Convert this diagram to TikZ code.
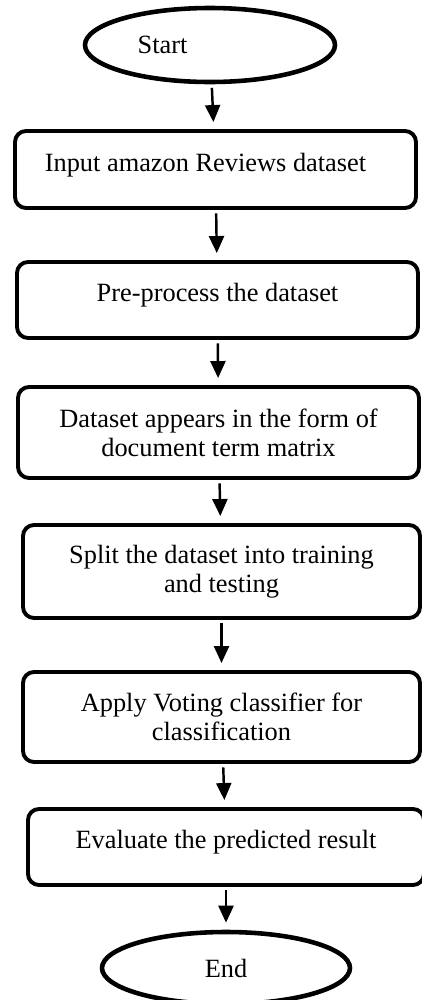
\documentclass[tikz,border=0pt]{standalone}
\usepackage{fontspec}
\setmainfont{Liberation Serif}
\usetikzlibrary{arrows.meta,positioning,shapes.geometric}
\tikzset{
    flowstart/.style={ellipse,draw,line width=2.6pt,inner sep=0pt,minimum width=5cm,minimum height=1.48cm},
    flowprocess/.style={rectangle,draw,rounded corners=0.22cm,line width=2.2pt,align=center,minimum width=8.02cm,minimum height=1.52cm},
    flowsingle/.style={flowprocess,text depth=0.3cm},
    flowline/.style={-{Triangle[width=0.3cm,length=0.34cm]},line width=1.4pt,shorten <=2pt,shorten >=4pt}
}

\begin{document}
\begin{tikzpicture}[font=\fontsize{15pt}{16.5pt}\selectfont]
            \useasboundingbox (0,0) rectangle (8.44,-20);
            \node[flowstart] (start) at (4.20,-0.90) {Start\hspace*{1.9cm}};
            \node[flowsingle,minimum height=1.54cm] (input) at (4.31,-3.39) {Input amazon Reviews dataset\hspace*{0.4cm}};
            \node[flowsingle] (preprocess) at (4.35,-6.00) {Pre-process the dataset};
            \node[flowprocess,minimum height=1.82cm] (dtm) at (4.37,-8.65) {Dataset appears in the form of\\document term matrix};
            \node[flowprocess,minimum width=7.94cm,minimum height=1.86cm] (split) at (4.43,-11.43) {Split the dataset into training\\and testing};
            \node[flowprocess,minimum width=7.94cm,minimum height=1.80cm] (vote) at (4.43,-14.34) {Apply Voting classifier for\\classification};
            \node[flowsingle,minimum width=7.92cm] (evaluate) at (4.52,-16.94) {Evaluate the predicted result};
            \node[flowstart,minimum width=4.96cm,minimum height=1.44cm] (stop) at (4.52,-19.36) {End};
            \draw[flowline] (start) -- (input);
            \draw[flowline] (input) -- (preprocess);
            \draw[flowline] (preprocess) -- (dtm);
            \draw[flowline] (dtm) -- (split);
            \draw[flowline] (split) -- (vote);
            \draw[flowline] (vote) -- (evaluate);
            \draw[flowline] (evaluate) -- (stop);
        \end{tikzpicture}
\end{document}
